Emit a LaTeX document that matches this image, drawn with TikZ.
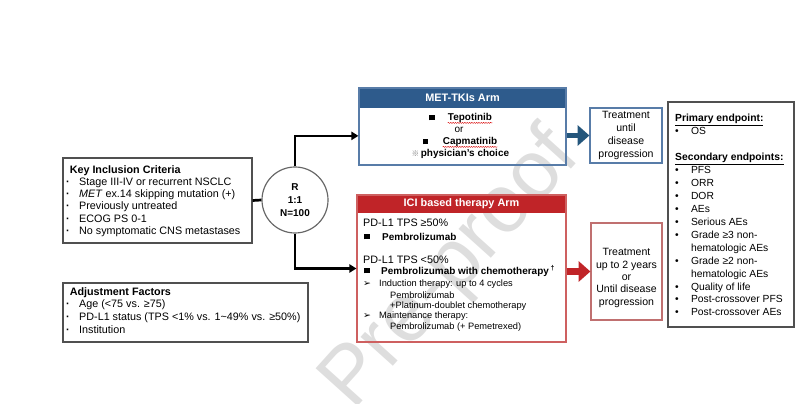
\documentclass[tikz,border=0pt]{standalone}
\usepackage{fontspec}
\setmainfont{Liberation Sans}
\newfontfamily\symfont{DejaVu Sans}
\newfontfamily\cjk{Noto Sans CJK KR}
\usepackage{xcolor}
\usetikzlibrary{positioning, arrows.meta, fit, decorations.pathmorphing}

\definecolor{metblue}{RGB}{46,91,140}
\definecolor{metline}{RGB}{88,124,168}
\definecolor{arrowblue}{RGB}{36,86,124}
\definecolor{icired}{RGB}{192,36,40}
\definecolor{iciline}{RGB}{206,96,96}
\definecolor{trtred}{RGB}{192,112,112}
\definecolor{boxgray}{RGB}{80,80,80}

\newcommand\sqbox{\rule[0.4pt]{4.5pt}{4.5pt}}
\newcommand\dotitem{\hspace*{0pt}\textbf{·}\hspace{8pt}}
\newcommand\ebul{\makebox[13.5pt][l]{•}}

\begin{document}
\begin{tikzpicture}[
    x=0.03cm, y=-0.03cm,
    frame/.style={draw=boxgray, line width=1.1pt, inner sep=0pt},
    plain/.style={inner sep=0pt, font=\fontsize{9.2}{10.6}\selectfont},
    drug/.style={inner sep=0pt, font=\fontsize{8.5}{10}\selectfont\bfseries},
    small/.style={inner sep=0pt, font=\fontsize{7.9}{9.4}\selectfont},
    head/.style={inner sep=0pt, text=white, font=\fontsize{9.3}{11}\selectfont\bfseries},
    pointer/.style={inner sep=0pt, anchor=west, font=\symfont\fontsize{8}{9}\selectfont},
    squiggle/.style={draw=red!85!black, line width=0.35pt, decorate,
        decoration={snake, amplitude=0.45pt, segment length=2pt}},
    conn/.style={draw, line width=2.3pt},
    tip/.style={-{Triangle[length=6pt,width=7pt]}},
    fatarrow/.style={line width=#1, -{Triangle[length=10pt,width=17pt]}}
]
\useasboundingbox (0,0) rectangle (800,404);

% watermark
\node[rotate=48, text=black!13, font=\fontsize{70}{70}\selectfont] (mark) at (452,270) {Pre-proof};

% left boxes
\node[frame, fit={(63,158) (252,243)}] (incl) {};
\node[plain, anchor=north west, align=left, font=\fontsize{9.2}{10.5}\selectfont] (incltxt) at (66,165)
    {\hspace*{3pt}\textbf{Key Inclusion Criteria}\\
     \dotitem Stage III-IV or recurrent NSCLC\\
     \dotitem \textit{MET} ex.14 skipping mutation (+)\\
     \dotitem Previously untreated\\
     \dotitem ECOG PS 0-1\\
     \dotitem No symptomatic CNS metastases};

\node[frame, fit={(63,283) (308,342)}] (adj) {};
\node[plain, anchor=north west, align=left, font=\fontsize{9.2}{10.8}\selectfont] (adjtxt) at (66,287)
    {\hspace*{3pt}\textbf{Adjustment Factors}\\
     \dotitem Age (<75 vs. ≥75)\\
     \dotitem PD-L1 status (TPS <1\% vs. 1\textasciitilde49\% vs. ≥50\%)\\
     \dotitem Institution};

% randomisation
\node[circle, draw=black!60, line width=1pt, minimum size=1.98cm, inner sep=0pt,
      align=center, font=\fontsize{8.5}{11}\selectfont\bfseries] (rnd) at (295,200) {R\\1:1\\N=100};

% MET-TKIs arm
\node[fill=metblue, fit={(359,88) (566,108)}, inner sep=0pt] (methead) {};
\node[head] (methdtxt) at (methead.center) {MET-TKIs Arm};
\node[draw=metline, line width=1pt, fit={(359,88) (566,165)}, inner sep=0pt] (met) {};
\node[drug] (tep) at (470,118) {Tepotinib};
\node[inner sep=0pt, left=11pt of tep] (sq1) {\sqbox};
\node[inner sep=0pt, font=\fontsize{8.5}{10}\selectfont] (orword) at (459,129.5) {or};
\node[drug] (cap) at (470,142) {Capmatinib};
\node[inner sep=0pt, left=12pt of cap] (sq2) {\sqbox};
\node[drug] (choice) at (465,154) {physician's choice};
\node[inner sep=0pt, left=1pt of choice, text=black!55, font=\cjk\fontsize{6.5}{7}\selectfont] (refmark) {※};
\draw[squiggle] ([yshift=-2pt]tep.base west) -- ([yshift=-2pt]tep.base east);
\draw[squiggle] ([yshift=-2pt]cap.base west) -- ([yshift=-2pt]cap.base east);

% ICI arm
\node[fill=icired, fit={(357,195) (566,213)}, inner sep=0pt] (icihead) {};
\node[head] (icihdtxt) at (icihead.center) {ICI based therapy Arm};
\node[draw=iciline, line width=1pt, fit={(357,195) (566,342)}, inner sep=0pt] (ici) {};
\node[plain, anchor=west] (tpshi) at (363,223) {PD-L1 TPS ≥50\%};
\node[inner sep=0pt, anchor=west] (sq3) at (364,237) {\sqbox};
\node[drug, anchor=west] (pem1) at (382,237) {Pembrolizumab};
\node[plain, anchor=west] (tpslo) at (363,260) {PD-L1 TPS <50\%};
\node[inner sep=0pt, anchor=west] (sq4) at (364,271) {\sqbox};
\node[drug, anchor=west] (pem2) at (381,271) {Pembrolizumab with chemotherapy\,\textsuperscript{†}};
\node[pointer] (arr1) at (363,284) {➢};
\node[small, anchor=west] (induct) at (379,284) {Induction therapy: up to 4 cycles};
\node[small, anchor=west] (ind1) at (390,295) {Pembrolizumab};
\node[small, anchor=west] (ind2) at (390,306) {+Platinum-doublet chemotherapy};
\node[pointer] (arr2) at (363,316) {➢};
\node[small, anchor=west] (maint) at (379,316) {Maintenance therapy:};
\node[small, anchor=west] (mnt1) at (390,327) {Pembrolizumab (+ Pemetrexed)};

% treatment duration
\node[draw=metline, line width=1pt, fit={(590,108) (662,163)}, inner sep=0pt] (trt1) {};
\node[inner sep=0pt, align=center, font=\fontsize{9}{11}\selectfont] (trt1txt) at (trt1.center)
    {Treatment\\until\\disease\\progression};
\node[draw=trtred, line width=1pt, fit={(591,223) (662,320)}, inner sep=0pt] (trt2) {};
\node[inner sep=0pt, align=center, font=\fontsize{9}{10.6}\selectfont] (trt2txt) at (626.5,278)
    {Treatment\\up to 2 years\\or\\Until disease\\progression};

% endpoints
\node[draw=boxgray, line width=1.5pt, fit={(668,102) (794,327)}, inner sep=0pt] (endp) {};
\node[inner sep=0pt, anchor=north west, align=left, font=\fontsize{8.8}{11.05}\selectfont] (endtxt) at (675,114)
    {\underline{\textbf{Primary endpoint:}}\\
     \ebul OS\\[11.05pt]
     \underline{\textbf{Secondary endpoints:}}\\
     \ebul PFS\\
     \ebul ORR\\
     \ebul DOR\\
     \ebul AEs\\
     \ebul Serious AEs\\
     \ebul Grade ≥3 non-\\
     \hspace*{13.5pt}hematologic AEs\\
     \ebul Grade ≥2 non-\\
     \hspace*{13.5pt}hematologic AEs\\
     \ebul Quality of life\\
     \ebul Post-crossover PFS\\
     \ebul Post-crossover AEs};

% connectors
\draw[conn] (incl.east) -- (rnd.west);
\draw[conn, tip] (rnd.north) |- ([yshift=-8pt]met.west);
\draw[conn, tip] (rnd.south) |- (ici.west);
\draw[arrowblue, fatarrow=4.7pt] (met.east |- trt1.west) -- (trt1.west);
\draw[icired, fatarrow=6pt] (ici.east |- trt2.west) -- (trt2.west);

\end{tikzpicture}
\end{document}
